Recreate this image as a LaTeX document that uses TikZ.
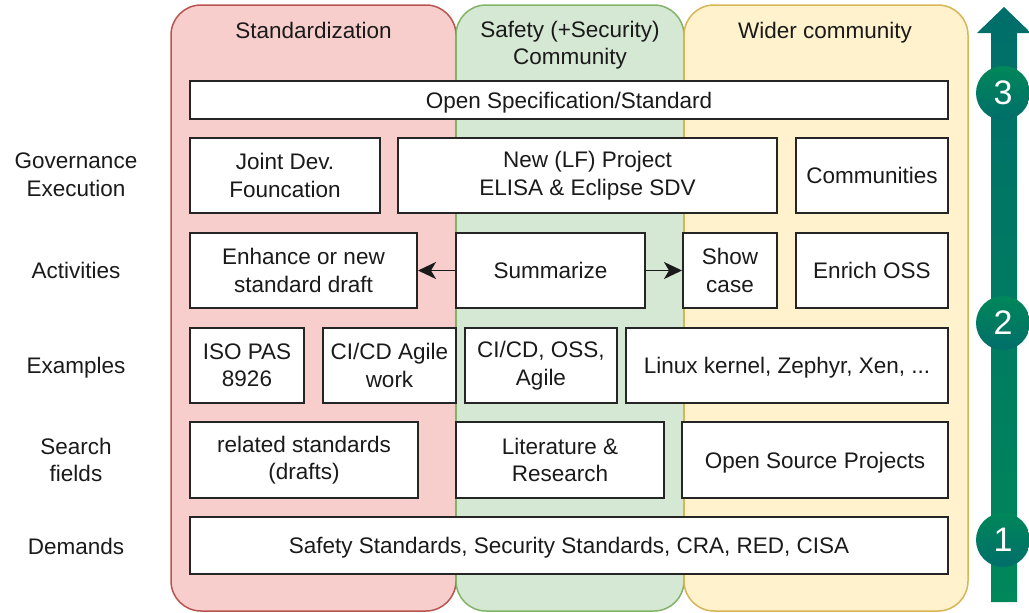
\documentclass[tikz,border=0pt]{standalone}
\usepackage{fontspec}
\setmainfont{Liberation Sans}
\usetikzlibrary{arrows.meta}
\definecolor{redfill}{HTML}{F8CECC}
\definecolor{redline}{HTML}{B85450}
\definecolor{greenfill}{HTML}{D5E8D4}
\definecolor{greenline}{HTML}{82B366}
\definecolor{yellowfill}{HTML}{FFF2CC}
\definecolor{yellowline}{HTML}{D6B656}
\definecolor{txt}{HTML}{1A1A1A}
\definecolor{teal1}{HTML}{006E6A}
\definecolor{green1}{HTML}{00875A}
\tikzset{
  column/.style={line width=1.5pt, rounded corners=30pt},
  box/.style={draw=txt!95, fill=white, line width=2pt, align=center, inner sep=2pt, text=txt,
    font=\fontsize{22.5}{27.5}\selectfont},
  lbl/.style={align=center, text=txt, font=\fontsize{22.5}{27.5}\selectfont},
  oneline/.style={text height=20pt, text depth=4pt},
  conn/.style={line width=1.8pt, draw=txt, -{Stealth[length=18pt,width=17pt,inset=5pt]}},
  stepcircle/.style={circle, minimum size=54pt, inner sep=0pt, text=white,
    font=\fontsize{34}{34}\selectfont, top color=green1, bottom color=teal1, draw=none}
}
\begin{document}
\begin{tikzpicture}[x=1pt,y=-1pt]
\useasboundingbox (0,0) rectangle (1029,613);
% columns
\draw[column, draw=redline, fill=redfill] (171,5) rectangle (456,611);
\draw[column, draw=greenline, fill=greenfill] (456,5) rectangle (684,611);
\draw[column, draw=yellowline, fill=yellowfill] (684,5) rectangle (968,611);
\node[lbl, oneline] (t1) at (313.5,30) {Standardization};
\node[lbl] (t2) at (570,45) {Safety (+Security)\\Community};
\node[lbl, oneline] (t3) at (825,30) {Wider community};
% row labels
\node[lbl] (l1) at (76,175) {Governance\\Execution};
\node[lbl, oneline] (l2) at (76,270) {Activities};
\node[lbl, oneline] (l3) at (76,365) {Examples};
\node[lbl] (l4) at (76,460) {Search\\fields};
\node[lbl, oneline] (l5) at (76,546) {Demands};
% boxes
\node[box, oneline, minimum width=758pt, minimum height=38pt] (spec) at (569,100) {Open Specification/Standard};
\node[box, minimum width=190pt, minimum height=75pt] (joint) at (285,175.5) {Joint Dev.\\Founcation};
\node[box, minimum width=379pt, minimum height=75pt] (newlf) at (587.5,175.5) {New (LF) Project\\ELISA \& Eclipse SDV};
\node[box, oneline, minimum width=152pt, minimum height=75pt] (comm) at (872,175.5) {Communities};
\node[box, minimum width=227pt, minimum height=75pt] (enh) at (303.5,270.5) {Enhance or new\\standard draft};
\node[box, oneline, minimum width=189pt, minimum height=75pt] (summ) at (550.5,270.5) {Summarize};
\node[box, minimum width=94pt, minimum height=75pt] (show) at (730,270.5) {Show\\case};
\node[box, oneline, minimum width=152pt, minimum height=75pt] (enrich) at (872,270.5) {Enrich OSS};
\node[box, minimum width=114pt, minimum height=75pt] (iso) at (247,365.5) {ISO PAS\\8926};
\node[box, minimum width=133pt, minimum height=75pt] (cicda) at (389.5,365.5) {CI/CD Agile\\work};
\node[box, minimum width=152pt, minimum height=75pt] (cicdb) at (541,365.5) {CI/CD, OSS,\\Agile};
\node[box, oneline, minimum width=322pt, minimum height=75pt] (linux) at (787,365.5) {Linux kernel, Zephyr, Xen, ...};
\node[box, minimum width=228pt, minimum height=76pt] (rel) at (304,460) {related standards\\(drafts)};
\node[box, minimum width=208pt, minimum height=76pt] (lit) at (560,460) {Literature \&\\Research};
\node[box, oneline, minimum width=266pt, minimum height=76pt] (oss) at (815,460) {Open Source Projects};
\node[box, oneline, minimum width=758pt, minimum height=57pt] (dem) at (569,545.5) {Safety Standards, Security Standards, CRA, RED, CISA};
% connectors
\draw[conn] (summ.west) -- (enh.east);
\draw[conn] (summ.east) -- (show.west);
% progress arrow
\shade[top color=teal1, bottom color=green1]
  (991,602) -- (991,33) -- (977,33) -- (1004,7) -- (1031,33) -- (1017,33) -- (1017,602) -- cycle;
\node[stepcircle] (s3) at (1003,93) {3};
\node[stepcircle] (s2) at (1003,323) {2};
\node[stepcircle] (s1) at (1003,540) {1};
\end{tikzpicture}
\end{document}
